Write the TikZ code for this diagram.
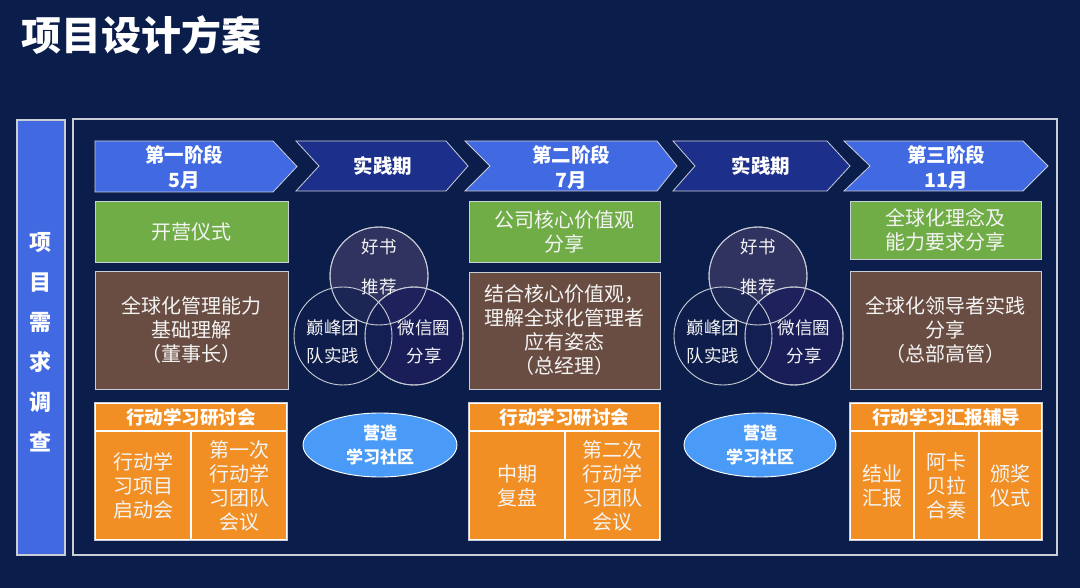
\documentclass[tikz,border=0pt]{standalone}
\usepackage{fontspec}
\setmainfont{Noto Sans CJK SC}
\usetikzlibrary{shapes.geometric}
\definecolor{bg}{HTML}{0B1D4B}
\definecolor{royal}{HTML}{4169E1}
\definecolor{dkblue}{HTML}{1B2F8B}
\definecolor{grn}{HTML}{70AD47}
\definecolor{brn}{HTML}{694D42}
\definecolor{org}{HTML}{F28F24}
\definecolor{ell}{HTML}{4A9BF7}
\definecolor{edge}{HTML}{C9CDD6}
\definecolor{txt}{HTML}{F4F4F4}
\definecolor{vtop}{HTML}{30335F}
\definecolor{vright}{HTML}{1C1F5C}
\definecolor{vleft}{HTML}{101E4E}
\tikzset{
  box/.style={draw=edge, line width=0.8pt, text=txt, align=center, inner sep=0pt,
    font=\fontsize{20}{24}\selectfont},
  greenbox/.style={box, fill=grn},
  brownbox/.style={box, fill=brn},
  orghead/.style={draw=white, line width=1.5pt, fill=org, text=white, align=center, inner sep=0pt,
    font=\fontsize{18.5}{22}\selectfont\bfseries},
  orgcell/.style={draw=white, line width=1.5pt, fill=org, text=txt, align=center, inner sep=0pt,
    font=\fontsize{20}{24}\selectfont},
  chevtext/.style={text=white, align=center, inner sep=0pt, font=\fontsize{19.5}{25}\selectfont\bfseries},
  chevshape/.style={draw=edge, line width=0.8pt},
  venn/.style={circle, draw=edge, line width=0.9pt, minimum size=98pt, inner sep=0pt},
  venntext/.style={text=txt, align=center, inner sep=0pt, font=\fontsize{17.5}{28}\selectfont},
  venntop/.style={text=txt, align=center, inner sep=0pt, font=\fontsize{17.5}{40}\selectfont},
  ellbox/.style={ellipse, draw=white, line width=0.9pt, fill=ell, text=white, align=center,
    inner sep=0pt, font=\fontsize{17}{24}\selectfont\bfseries},
}
\begin{document}
\begin{tikzpicture}[x=1pt,y=-1pt]
\fill[bg] (0,0) rectangle (1080,588);
\useasboundingbox (0,0) rectangle (1080,588);

% title
\node[anchor=west, text=white, inner sep=0pt, font=\fontsize{40}{44}\selectfont\bfseries] (title) at (21,35) {项目设计方案};

% left bar
\node[draw=edge, line width=1.5pt, fill=royal, minimum width=48pt, minimum height=435pt, inner sep=0pt] (bar) at (41,337.5) {};
\node[text=white, align=center, inner sep=0pt, font=\fontsize{22}{40}\selectfont\bfseries] (bartext) at (41,342) {项\\目\\需\\求\\调\\查};

% main frame
\node[draw=edge, line width=2.5pt, minimum width=984pt, minimum height=436pt, inner sep=0pt] (frame) at (565,337) {};

% chevrons
\path[chevshape, fill=royal] (95,141) -- (273,141) -- (297,166.5) -- (273,192) -- (95,192) -- cycle;
\node[chevtext] (s1) at (184,167) {第一阶段\\5月};
\path[chevshape, fill=dkblue] (296,141) -- (446,141) -- (468,166) -- (446,191) -- (296,191) -- (319,166) -- cycle;
\node[chevtext] (p1) at (383,166) {实践期};
\path[chevshape, fill=royal] (465,141) -- (657,141) -- (677,166) -- (657,191) -- (465,191) -- (490,166) -- cycle;
\node[chevtext] (s2) at (571,167) {第二阶段\\7月};
\path[chevshape, fill=dkblue] (673,141) -- (827,141) -- (850,166) -- (827,191) -- (673,191) -- (695,166) -- cycle;
\node[chevtext] (p2) at (761,166) {实践期};
\path[chevshape, fill=royal] (844,141) -- (1023,141) -- (1048,166) -- (1023,191) -- (844,191) -- (870,166) -- cycle;
\node[chevtext] (s3) at (946,167) {第三阶段\\11月};

% column 1
\node[greenbox, minimum width=193pt, minimum height=61pt] (g1) at (191.5,232) {开营仪式};
\node[brownbox, minimum width=193pt, minimum height=118pt] (b1) at (191.5,330) {全球化管理能力\\基础理解\\（董事长）};
\node[orghead, minimum width=192pt, minimum height=28pt] (h1) at (191,417) {行动学习研讨会};
\node[orgcell, minimum width=96pt, minimum height=109pt] (c11) at (143,485.5) {行动学\\习项目\\启动会};
\node[orgcell, minimum width=96pt, minimum height=109pt] (c12) at (239,485.5) {第一次\\行动学\\习团队\\会议};
\draw[edge, line width=0.8pt] (h1.north west) rectangle (c12.south east);

% column 2
\node[greenbox, minimum width=191pt, minimum height=61pt] (g2) at (564.5,232) {公司核心价值观\\分享};
\node[brownbox, minimum width=191pt, minimum height=117pt] (b2) at (564.5,330.5) {结合核心价值观，\\理解全球化管理者\\应有姿态\\（总经理）};
\node[orghead, minimum width=191pt, minimum height=28pt] (h2) at (564.5,417) {行动学习研讨会};
\node[orgcell, minimum width=96pt, minimum height=109pt] (c21) at (517,485.5) {中期\\复盘};
\node[orgcell, minimum width=95pt, minimum height=109pt] (c22) at (612.5,485.5) {第二次\\行动学\\习团队\\会议};
\draw[edge, line width=0.8pt] (h2.north west) rectangle (c22.south east);

% column 3
\node[greenbox, minimum width=191pt, minimum height=58pt] (g3) at (945.5,230) {全球化理念及\\能力要求分享};
\node[brownbox, minimum width=191pt, minimum height=118pt] (b3) at (945.5,330) {全球化领导者实践\\分享\\（总部高管）};
\node[orghead, minimum width=192pt, minimum height=28pt] (h3) at (946,417) {行动学习汇报辅导};
\node[orgcell, minimum width=64pt, minimum height=109pt] (c31) at (882,485.5) {结业\\汇报};
\node[orgcell, minimum width=65pt, minimum height=109pt] (c32) at (946.5,485.5) {阿卡\\贝拉\\合奏};
\node[orgcell, minimum width=63pt, minimum height=109pt] (c33) at (1010.5,485.5) {颁奖\\仪式};
\draw[edge, line width=0.8pt] (h3.north west) rectangle (c33.south east);

% venn 1
\node[venn, fill=vtop] (v1t) at (379,276) {};
\node[venn, fill=vright, fill opacity=0.85] (v1r) at (414,336) {};
\node[venn, fill=vleft, fill opacity=0.6] (v1l) at (343,336) {};
\draw[edge, line width=0.9pt] (v1t.center) circle (49pt);
\draw[edge, line width=0.9pt] (v1r.center) circle (49pt);
\node[venntop] (v1tt) at (379,267) {好书\\推荐};
\node[venntext] (v1lt) at (333,342) {巅峰团\\队实践};
\node[venntext] (v1rt) at (424,342) {微信圈\\分享};

% venn 2
\node[venn, fill=vtop] (v2t) at (758,276) {};
\node[venn, fill=vright, fill opacity=0.85] (v2r) at (794,336) {};
\node[venn, fill=vleft, fill opacity=0.6] (v2l) at (723,336) {};
\draw[edge, line width=0.9pt] (v2t.center) circle (49pt);
\draw[edge, line width=0.9pt] (v2r.center) circle (49pt);
\node[venntop] (v2tt) at (758,267) {好书\\推荐};
\node[venntext] (v2lt) at (713,342) {巅峰团\\队实践};
\node[venntext] (v2rt) at (804,342) {微信圈\\分享};

% ellipses
\node[ellbox, minimum width=154pt, minimum height=64pt] (e1) at (380,445) {营造\\学习社区};
\node[ellbox, minimum width=152pt, minimum height=64pt] (e2) at (760,445) {营造\\学习社区};
\end{tikzpicture}
\end{document}
